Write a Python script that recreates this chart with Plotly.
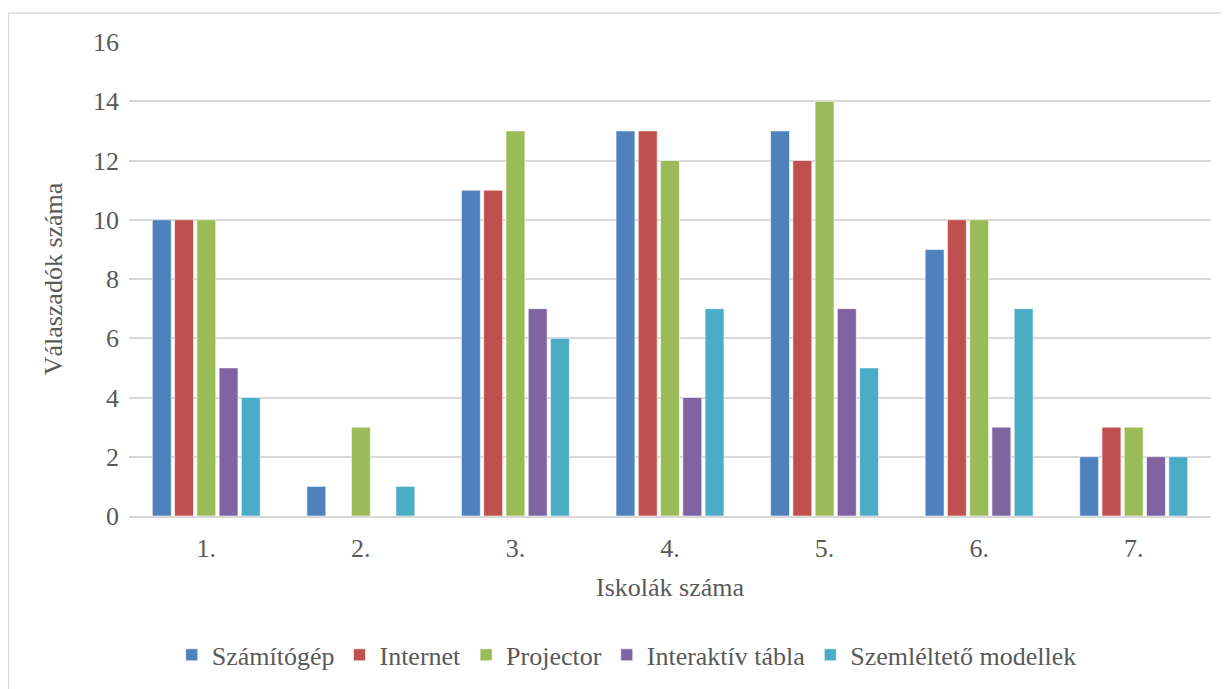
import plotly.graph_objects as go

categories = ["1.", "2.", "3.", "4.", "5.", "6.", "7."]
series_names = ["Számítógép", "Internet", "Projector", "Interaktív tábla", "Szemléltető modellek"]
szamitogep = [10, 1, 11, 13, 13, 9, 2]
internet = [10, 0, 11, 13, 12, 10, 3]
projector = [10, 3, 13, 12, 14, 10, 3]
interaktiv = [5, 0, 7, 4, 7, 3, 2]
szemlelteto = [4, 1, 6, 7, 5, 7, 2]
y_ticks = [0, 2, 4, 6, 8, 10, 12, 14, 16]

colors = ["#4F81BD", "#C0504D", "#9BBB59", "#8064A2", "#4BACC6"]
values = [szamitogep, internet, projector, interaktiv, szemlelteto]

FONT = "Liberation Serif"
TXT = "#595959"
FS = 26

fig = go.Figure()
for name, vals, col in zip(series_names, values, colors):
    fig.add_trace(go.Bar(
        x=categories, y=vals, name=name,
        marker=dict(color=col, line=dict(color="rgba(255,255,255,0.6)", width=1)),
    ))

fig.update_layout(
    width=1229, height=689,
    barmode="group", bargap=0.28, bargroupgap=0.15,
    paper_bgcolor="white", plot_bgcolor="white",
    margin=dict(l=121, r=26, t=34, b=181),
    font=dict(family=FONT, size=FS, color=TXT),
    xaxis=dict(
        title=dict(text="Iskolák száma", font=dict(family=FONT, size=FS, color=TXT), standoff=16),
        showline=True, linecolor="#D9D9D9", linewidth=2,
        ticks="", tickfont=dict(family=FONT, size=FS, color=TXT), ticklabelstandoff=8,
        showgrid=False,
    ),
    yaxis=dict(
        title=dict(text="Válaszadók száma", font=dict(family=FONT, size=FS, color=TXT), standoff=22),
        range=[0, 16], tickvals=y_ticks,
        showgrid=True, gridcolor="#D9D9D9", gridwidth=1.5,
        zeroline=False, showline=False, ticks="",
        tickfont=dict(family=FONT, size=FS, color=TXT), ticklabelstandoff=9,
    ),
    legend=dict(
        orientation="h", x=0.46, xanchor="center", y=-0.293, yanchor="middle",
        font=dict(family=FONT, size=FS, color=TXT), itemwidth=30, traceorder="normal",
    ),
    shapes=[
        dict(type="line", xref="paper", yref="paper", x0=-0.1114, x1=1.03, y0=1.0612, y1=1.0612,
             line=dict(color="#D9D9D9", width=1.5)),
        dict(type="line", xref="paper", yref="paper", x0=-0.1114, x1=-0.1114, y0=-0.4, y1=1.0612,
             line=dict(color="#D9D9D9", width=1.5)),
    ],
)

fig.write_html("out.html")
